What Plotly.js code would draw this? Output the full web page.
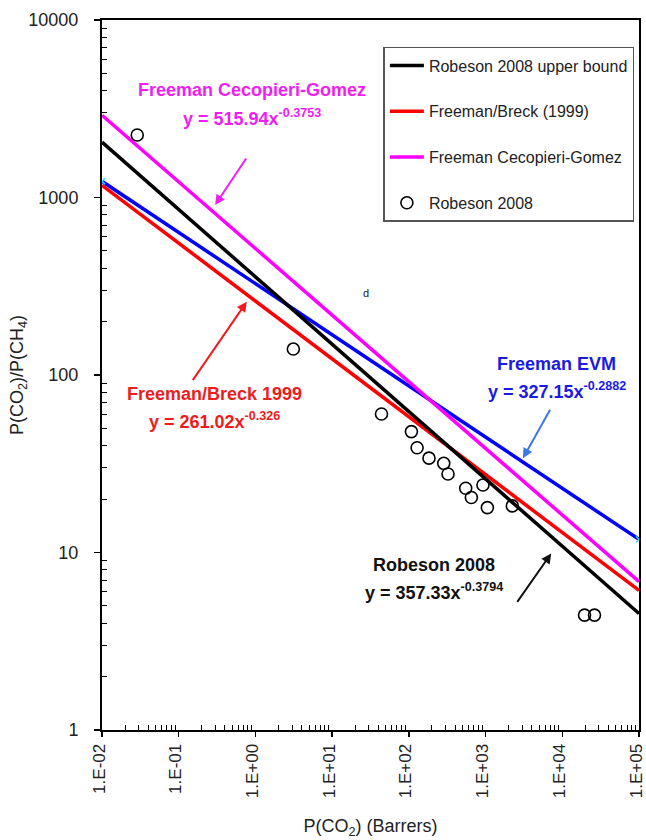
<!DOCTYPE html>
<html>
<head>
<meta charset="utf-8">
<script src="https://cdn.plot.ly/plotly-3.0.1.min.js"></script>
<style>
  html, body { margin: 0; padding: 0; background: #fff; }
  #chart { width: 646px; height: 840px; }
</style>
</head>
<body>
<div id="chart"></div>
<script>
// Power-law upper-bound fits y = a * x^b for CO2/CH4 separation
const fitNames  = ['Robeson 2008 upper bound', 'Freeman/Breck (1999)', 'Freeman Cecopieri-Gomez', 'Freeman EVM'];
const fitCoef   = [357.33, 261.02, 515.94, 327.15];
const fitExp    = [-0.3794, -0.326, -0.3753, -0.2882];
const fitColors = ['#000000', '#ff0000', '#ff00ff', '#0000ff'];
const fitInLegend = [true, true, true, false];
const xSpan = [1e-2, 1e5];

// Robeson 2008 membrane data points
const robesonP   = [0.0288, 3.12, 44, 108, 128, 183, 285, 324, 551, 925, 653, 1055, 2234, 19500, 26300];
const robesonSel = [2250, 140, 60.3, 48, 38.9, 34.0, 31.8, 27.7, 23.0, 24.0, 20.4, 17.9, 18.3, 4.44, 4.44];

// Axis tick labels
const xTickVals = [1e-2, 1e-1, 1e0, 1e1, 1e2, 1e3, 1e4, 1e5];
const xTickText = ['1.E-02', '1.E-01', '1.E+00', '1.E+01', '1.E+02', '1.E+03', '1.E+04', '1.E+05'];
const yTickVals = [1, 10, 100, 1000, 10000];
const yTickText = ['1', '10', '100', '1000', '10000'];

const FONT = 'Liberation Sans, Arial, Helvetica, sans-serif';

function minorTicks(lo, hi) {
  const out = [];
  for (let e = lo; e < hi; e++) {
    for (let k = 2; k <= 9; k++) out.push(k * Math.pow(10, e));
  }
  return out;
}

const traces = [];
// draw order: blue, red, black, magenta
[3, 1, 0, 2].forEach(i => {
  const t = {
    x: xSpan,
    y: xSpan.map(x => fitCoef[i] * Math.pow(x, fitExp[i])),
    type: 'scatter',
    mode: 'lines',
    name: fitNames[i],
    line: { color: fitColors[i], width: 3.5 },
    showlegend: fitInLegend[i],
    legendgroup: 'g' + i,
    legendrank: i + 1
  };
  if (i === 3) {
    t.mode = 'lines+markers';
    t.marker = { symbol: 'x-thin-open', size: 6, color: '#33ddff', line: { color: '#33ddff', width: 1.5 } };
  }
  traces.push(t);
});

traces.push({
  x: robesonP,
  y: robesonSel,
  type: 'scatter',
  mode: 'markers',
  name: 'Robeson 2008',
  marker: { symbol: 'circle-open', size: 12, color: '#000', line: { color: '#000', width: 1.6 } },
  legendgroup: 'g4',
  legendrank: 5
});

function eqText(i) {
  return '<b>y = ' + fitCoef[i] + 'x<sup>' + fitExp[i] + '</sup></b>';
}
function label(text, x, y, color) {
  return { text: text, x: x, y: y, xref: 'x', yref: 'y', showarrow: false,
           font: { family: FONT, size: 18, color: color }, xanchor: 'center', yanchor: 'middle' };
}
function arrow(x, y, ax, ay, color) {
  return { text: '', x: x, y: y, xref: 'x', yref: 'y', ax: ax, ay: ay, showarrow: true,
           arrowhead: 2, arrowsize: 1, arrowwidth: 2, arrowcolor: color, standoff: 0 };
}

// annotation positions are in log10 units of the axes
const annotations = [
  label('<b>Freeman Cecopieri-Gomez</b>', -0.044, 3.606, '#f01ef0'),
  label(eqText(2), -0.044, 3.453, '#f01ef0'),
  arrow(-0.525, 2.958, 32, -48, '#f01ef0'),

  label('<b>Freeman/Breck 1999</b>', -0.538, 1.893, '#ee1c1c'),
  label(eqText(1), -0.538, 1.746, '#ee1c1c'),
  arrow(-0.113, 2.413, -55, 80, '#ee1c1c'),

  label('<b>Freeman EVM</b>', 3.925, 2.062, '#1a1ae6'),
  label(eqText(3), 3.925, 1.915, '#1a1ae6'),
  arrow(3.487, 1.531, 28, -50, '#3c78e6'),

  label('<b>Robeson 2008</b>', 2.325, 0.930, '#111'),
  label(eqText(0), 2.325, 0.783, '#111'),
  arrow(3.856, 0.995, -35, 50, '#111'),

  { text: 'd', x: 1.44, y: 2.462, xref: 'x', yref: 'y', showarrow: false,
    font: { family: FONT, size: 11, color: '#222' } }
];

const layout = {
  width: 646,
  height: 840,
  margin: { l: 102, r: 7, t: 20, b: 110 },
  paper_bgcolor: '#fff',
  plot_bgcolor: '#fff',
  font: { family: FONT, color: '#222' },
  showlegend: true,
  legend: {
    x: 0.524, y: 0.962, xanchor: 'left', yanchor: 'top',
    bgcolor: '#fff', bordercolor: '#555', borderwidth: 1.5,
    font: { family: FONT, size: 16, color: '#222' },
    traceorder: 'grouped', tracegroupgap: 22, itemwidth: 34
  },
  xaxis: {
    type: 'log',
    range: [-2, 5],
    tickmode: 'array',
    tickvals: xTickVals,
    ticktext: xTickText,
    tickangle: -90,
    ticklabeloverflow: 'allow',
    ticklabelshift: -3,
    tickfont: { family: FONT, size: 17, color: '#222' },
    ticks: 'outside', ticklen: 5, tickwidth: 1.5, tickcolor: '#000',
    minor: { tickmode: 'array', tickvals: minorTicks(-2, 5), ticks: 'inside', ticklen: 5, tickwidth: 1, tickcolor: '#000' },
    showline: true, linecolor: '#000', linewidth: 2, mirror: true,
    showgrid: false, zeroline: false,
    title: { text: 'P(CO<sub>2</sub>) (Barrers)', font: { family: FONT, size: 18, color: '#222' }, standoff: 22 },
    automargin: false
  },
  yaxis: {
    type: 'log',
    range: [0, 4],
    tickmode: 'array',
    tickvals: yTickVals,
    ticktext: yTickText,
    tickfont: { family: FONT, size: 18, color: '#222' },
    ticks: 'outside', ticklen: 6, tickwidth: 1.5, tickcolor: '#000',
    ticklabelstandoff: 12,
    minor: { tickmode: 'array', tickvals: minorTicks(0, 4), ticks: 'inside', ticklen: 5, tickwidth: 1, tickcolor: '#000' },
    showline: true, linecolor: '#000', linewidth: 2, mirror: true,
    showgrid: false, zeroline: false,
    title: { text: 'P(CO<sub>2</sub>)/P(CH<sub>4</sub>)', font: { family: FONT, size: 18, color: '#222' }, standoff: 0 },
    automargin: false
  },
  annotations: annotations
};

Plotly.newPlot('chart', traces, layout, { displayModeBar: false, staticPlot: true });
</script>
</body>
</html>
